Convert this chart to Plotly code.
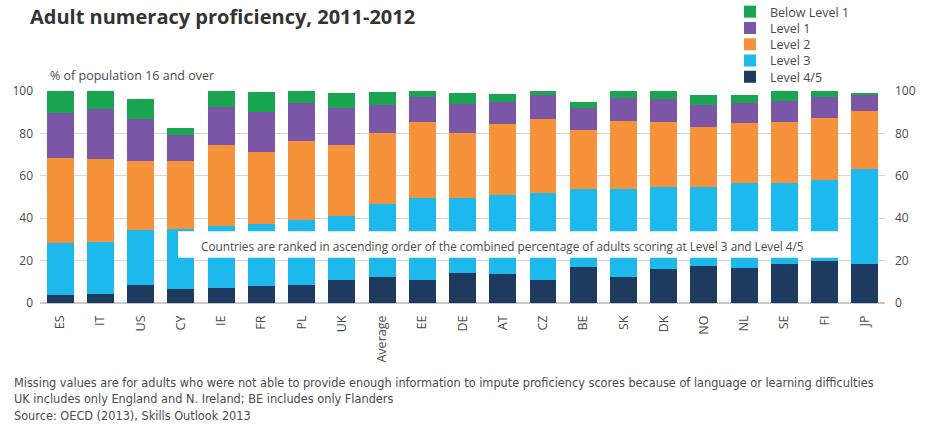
import plotly.graph_objects as go

# Adult numeracy proficiency by level, % of population aged 16 and over
countries = ["ES", "IT", "US", "CY", "IE", "FR", "PL", "UK", "Average", "EE", "DE",
             "AT", "CZ", "BE", "SK", "DK", "NO", "NL", "SE", "FI", "JP"]
level45 = [3.9, 4.4, 8.3, 6.5, 7.2, 8.0, 8.3, 11.0, 12.3, 11.0, 14.2,
           13.5, 11.0, 17.0, 12.3, 16.2, 17.3, 16.7, 18.6, 19.7, 18.6]
level3 = [24.4, 24.4, 26.0, 28.3, 29.2, 29.5, 30.8, 30.1, 34.6, 38.3, 35.1,
          37.4, 40.7, 37.0, 41.7, 38.3, 37.5, 39.7, 38.1, 38.3, 44.4]
level2 = [40.2, 38.9, 32.6, 32.1, 38.1, 33.8, 37.4, 33.4, 33.1, 36.2, 31.0,
          33.4, 34.9, 27.6, 32.0, 30.7, 28.3, 28.3, 28.8, 29.4, 27.6]
level1 = [21.3, 23.6, 19.7, 12.3, 18.1, 18.9, 17.7, 17.6, 13.4, 11.8, 13.6,
          10.3, 11.5, 10.2, 10.5, 10.9, 10.3, 9.8, 9.9, 9.6, 7.5]
below1 = [10.2, 8.7, 9.5, 3.5, 7.4, 9.5, 5.8, 6.8, 6.0, 2.7, 5.0,
          3.8, 1.9, 3.2, 3.5, 3.9, 4.7, 3.6, 4.6, 3.0, 1.1]

y_ticks = [0, 20, 40, 60, 80, 100]

# name, values, colour, legend slot (0 = top row)
series = [
    ("Level 4/5", level45, "#1f3a5f", 4),
    ("Level 3", level3, "#1db9ec", 3),
    ("Level 2", level2, "#f5923a", 2),
    ("Level 1", level1, "#7b55a6", 1),
    ("Below Level 1", below1, "#1aa650", 0),
]

FONT = "Open Sans, Lato, sans-serif"
GREY = "#4a4a4a"

W, H = 925, 424
L, R, T, B = 40, 40, 91, 121
ph = H - T - B
pw = W - L - R

fig = go.Figure()
legend_layout = {}
for name, vals, color, slot in series:
    key = "legend" if slot == 0 else f"legend{slot + 1}"
    fig.add_trace(go.Bar(
        x=countries, y=vals, name=name, legend=key,
        marker=dict(color=color, line=dict(width=0)),
    ))
    legend_layout[key] = dict(
        xref="container", yref="container",
        x=730 / W, xanchor="left", y=1 - (12 + 16.3 * slot) / H, yanchor="middle",
        font=dict(size=12.5, color=GREY), itemwidth=30,
        bgcolor="rgba(255,255,255,0)",
    )

fig.update_layout(
    width=W, height=H,
    barmode="stack", bargap=0.33,
    paper_bgcolor="white", plot_bgcolor="white",
    margin=dict(l=L, r=R, t=T, b=B, autoexpand=False),
    font=dict(family=FONT, color=GREY, size=12),
    title=dict(
        text="<b>Adult numeracy proficiency, 2011-2012</b>",
        x=30 / W, xanchor="left", y=1 - 17 / H, yanchor="middle",
        font=dict(family=FONT, size=20, color="#333333"),
    ),
    xaxis=dict(
        range=[-0.5, len(countries) - 0.5],
        tickangle=-90, showgrid=False, ticks="", showline=False,
        tickfont=dict(size=12.5, color=GREY), ticklabelstandoff=9,
    ),
    yaxis=dict(
        range=[0, 100], tickvals=y_ticks, showgrid=True, gridcolor="#d6d6d6",
        gridwidth=1, zeroline=True, zerolinecolor="#c8c8c8", ticks="",
        tickfont=dict(size=12, color=GREY), ticklabelstandoff=6,
    ),
    yaxis2=dict(
        range=[0, 100], tickvals=y_ticks, overlaying="y", side="right",
        showgrid=False, zeroline=False, ticks="",
        tickfont=dict(size=12, color=GREY), ticklabelstandoff=9,
    ),
    showlegend=True,
    **legend_layout,
)

# right-hand axis uses the same scale as the left one
fig.add_trace(go.Scatter(x=countries, y=level45, yaxis="y2", mode="markers",
                         marker=dict(opacity=0), showlegend=False, hoverinfo="skip"))

# white panel holding the ranking note
fig.add_shape(type="rect", xref="x", yref="y", x0=2.93, x1=19.45, y0=21.3, y1=33.9,
              fillcolor="white", line=dict(width=0), layer="above")
fig.add_annotation(
    xref="x", yref="y", x=11.0, y=27.0, showarrow=False,
    text="Countries are ranked in ascending order of the combined percentage of adults scoring at Level 3 and Level 4/5",
    font=dict(size=11.75, color=GREY),
)

fig.add_annotation(
    xref="paper", yref="paper", x=(48 - L) / pw, y=(H - B - 75) / ph,
    xanchor="left", yanchor="middle", showarrow=False,
    text="% of population 16 and over", font=dict(size=12.5, color=GREY),
)

notes = [
    "Missing values are for adults who were not able to provide enough information to impute proficiency scores because of language or learning difficulties",
    "UK includes only England and N. Ireland; BE includes only Flanders",
    "Source: OECD (2013), Skills Outlook 2013",
]
for i, line in enumerate(notes):
    fig.add_annotation(
        xref="paper", yref="paper", x=(12 - L) / pw, y=(H - B - (382 + 16.5 * i)) / ph,
        xanchor="left", yanchor="middle", showarrow=False, align="left",
        text=line,
        font=dict(family="Liberation Sans Narrow, DejaVu Sans Condensed, Roboto", size=12.6, color=GREY),
    )

fig.write_html("out.html")
